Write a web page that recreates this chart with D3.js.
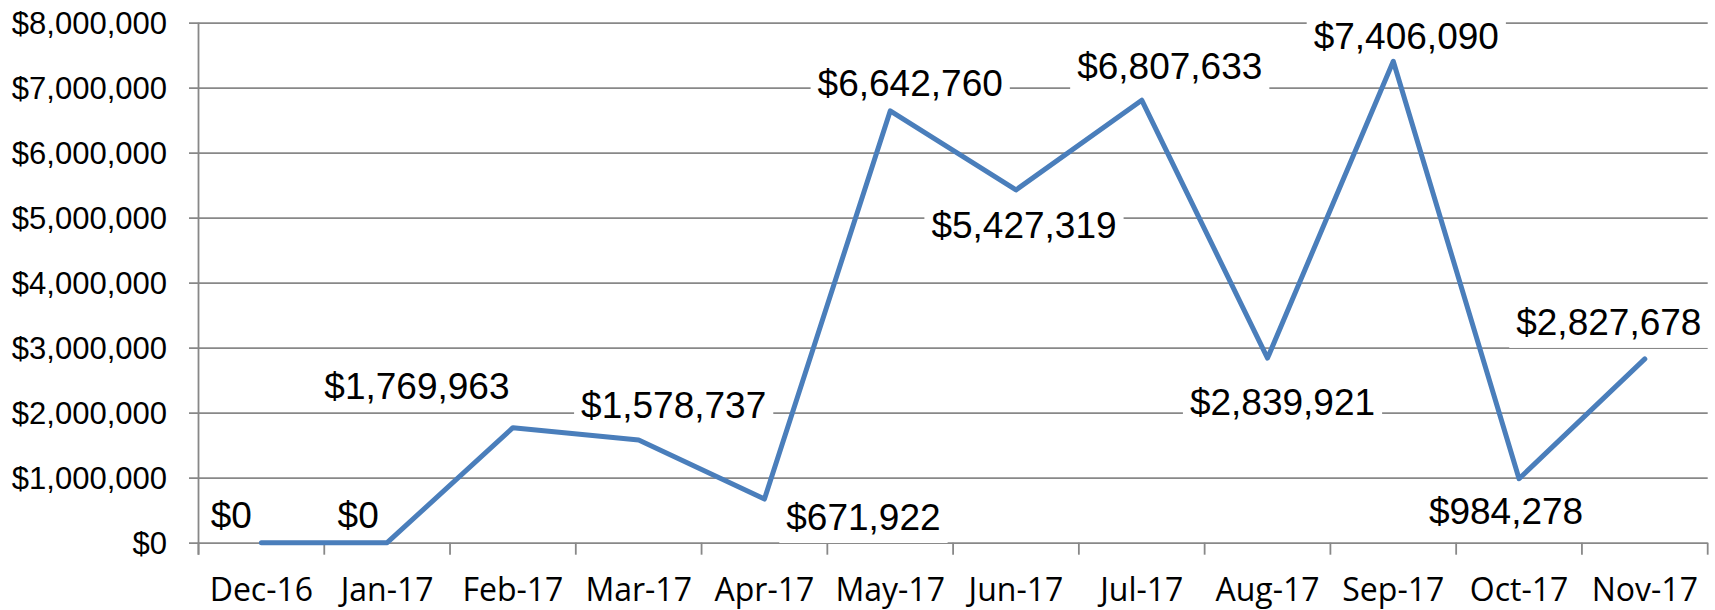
<!DOCTYPE html>
<html>
<head>
<meta charset="utf-8">
<script src="https://cdn.jsdelivr.net/npm/d3@7/dist/d3.min.js"></script>
<style>
  html, body { margin: 0; padding: 0; background: #fff; }
  svg { display: block; }
</style>
</head>
<body>
<svg id="chart" width="1715" height="610"></svg>
<script>
// ---- data ----
const categories = ["Dec-16","Jan-17","Feb-17","Mar-17","Apr-17","May-17","Jun-17","Jul-17","Aug-17","Sep-17","Oct-17","Nov-17"];
const values = [0, 0, 1769963, 1578737, 671922, 6642760, 5427319, 6807633, 2839921, 7406090, 984278, 2827678];
const yTicks = [0, 1000000, 2000000, 3000000, 4000000, 5000000, 6000000, 7000000, 8000000];

// ---- layout (label placement offsets from each point, in px) ----
const labelDx = [-30, -29, -96, 35, 99, 20, 8, 28, 15, 13, -13, -36];
const labelDy = [-28, -28, -42, -35, 18, -28, 35, -34, 44, -26, 32, -37];

const plotLeft = 198.5, plotRight = 1707.7, plotTop = 22.7, plotBottom = 542.7;
const svg = d3.select("#chart");

const x = d3.scaleBand().domain(categories).range([plotLeft, plotRight]).padding(0);
const y = d3.scaleLinear().domain([0, 8000000]).range([plotBottom, plotTop]);
const cx = c => x(c) + x.bandwidth() / 2;

const gridColor = "#888888";
const fmt = d3.format("$,");

// gridlines + y labels
const yAxis = d3.axisLeft(y).tickValues(yTicks).tickFormat(fmt)
  .tickSize(plotRight - 189).tickPadding(22);
const gy = svg.append("g").attr("transform", `translate(${plotRight},0)`).call(yAxis);
gy.select(".domain").remove();
gy.selectAll(".tick line").attr("stroke", gridColor).attr("stroke-width", 1.8);
gy.selectAll(".tick text")
  .attr("font-family", "'Liberation Sans', Arial, sans-serif")
  .attr("font-size", 31).attr("fill", "#000")
  .attr("dy", "0.36em");

// y axis line
svg.append("line").attr("x1", plotLeft).attr("x2", plotLeft).attr("y1", plotTop).attr("y2", plotBottom + 12)
  .attr("stroke", gridColor).attr("stroke-width", 1.8);

// x axis ticks at category boundaries
const bounds = categories.map(c => x(c)).concat([plotRight]);
svg.append("g").selectAll("line").data(bounds).join("line")
  .attr("x1", d => d).attr("x2", d => d).attr("y1", plotBottom).attr("y2", plotBottom + 12)
  .attr("stroke", gridColor).attr("stroke-width", 1.8);

// x labels
const xAxis = d3.axisBottom(x).tickSize(0).tickPadding(0);
const gx = svg.append("g").attr("transform", `translate(0,${plotBottom})`).call(xAxis);
gx.select(".domain").remove();
gx.selectAll(".tick text")
  .attr("font-family", "'Open Sans', sans-serif")
  .attr("font-size", 32).attr("fill", "#000")
  .attr("dy", null).attr("y", 58);

// label background boxes (under the line), then line, then label text
const rectLayer = svg.append("g");
const lineLayer = svg.append("g");
const textLayer = svg.append("g");

const line = d3.line().x((d, i) => cx(categories[i])).y(d => y(d));
lineLayer.append("path").datum(values)
  .attr("d", line)
  .attr("fill", "none")
  .attr("stroke", "#4a7ebb")
  .attr("stroke-width", 5)
  .attr("stroke-linejoin", "round")
  .attr("stroke-linecap", "round");

values.forEach((v, i) => {
  const px = cx(categories[i]) + labelDx[i];
  const py = y(v) + labelDy[i];
  const rect = rectLayer.append("rect").attr("fill", "#fff");
  const t = textLayer.append("text")
    .attr("x", px).attr("y", py + 13.2)
    .attr("text-anchor", "middle")
    .attr("font-family", "'Liberation Sans', Arial, sans-serif")
    .attr("font-size", 37).attr("fill", "#000")
    .text(fmt(v));
  const bb = t.node().getBBox();
  rect.attr("x", bb.x - 7).attr("width", bb.width + 14)
      .attr("y", py - 21).attr("height", 47);
});
</script>
</body>
</html>
